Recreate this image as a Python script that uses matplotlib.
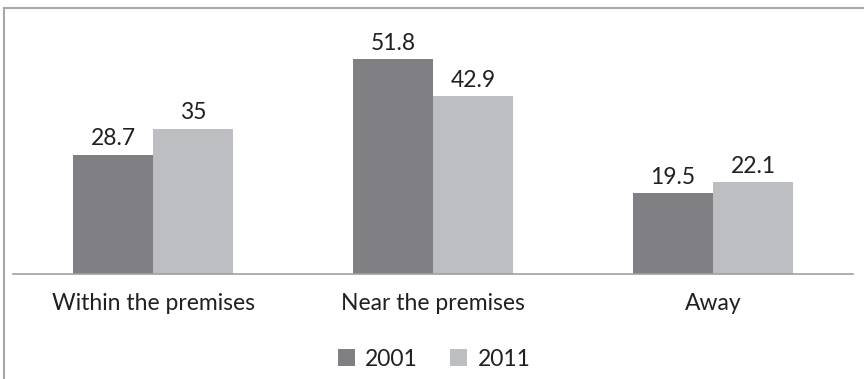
import numpy as np
import matplotlib.pyplot as plt
from matplotlib.lines import Line2D

categories = ["Within the premises", "Near the premises", "Away"]
years = ["2001", "2011"]
values2001 = [28.7, 51.8, 19.5]
values2011 = [35, 42.9, 22.1]
colors = ["#808084", "#bdbec2"]

plt.rcParams["font.family"] = ["Lato", "DejaVu Sans"]
fs = 16.5

fig = plt.figure(figsize=(8.64, 3.79), dpi=100)
W, H = 864, 379
# axes: x 13..853, baseline y=274, top y=25
ax = fig.add_axes([13 / W, 1 - 274 / H, 840 / W, 249 / H])

x = np.arange(len(categories))
bw = 80 / 280
ax.bar(x - bw / 2, values2001, bw, color=colors[0], label=years[0])
ax.bar(x + bw / 2, values2011, bw, color=colors[1], label=years[1])

for xi, v in zip(x, values2001):
    ax.text(xi - bw / 2, v + 1.3, "{:g}".format(v), ha="center", va="bottom",
            fontsize=fs, color="#231f20")
for xi, v in zip(x, values2011):
    ax.text(xi + bw / 2, v + 1.3, "{:g}".format(v), ha="center", va="bottom",
            fontsize=fs, color="#231f20")

ax.set_xlim(-0.5, 2.5)
ax.set_ylim(0, 60)
ax.set_xticks(x)
ax.set_xticklabels(categories, fontsize=fs, color="#231f20")
ax.tick_params(axis="x", length=0, pad=14)
ax.set_yticks([])
for s in ["top", "right", "left"]:
    ax.spines[s].set_visible(False)
ax.spines["bottom"].set_color("#a0a0a0")
ax.spines["bottom"].set_linewidth(1.2)

leg = fig.legend(loc="center", bbox_to_anchor=(434 / W, 1 - 359 / H), ncol=2,
                 frameon=False, fontsize=fs, handlelength=0.75, handleheight=0.75,
                 handletextpad=0.45, columnspacing=1.4)
for t in leg.get_texts():
    t.set_color("#231f20")

# frame lines (top and left)
fig.add_artist(Line2D([3.5 / W, 1], [1 - 8 / H, 1 - 8 / H], color="#a8a8a8", lw=1.5))
fig.add_artist(Line2D([3.5 / W, 3.5 / W], [0, 1 - 8 / H], color="#a8a8a8", lw=1.5))

fig.savefig("out.png", dpi=100)
